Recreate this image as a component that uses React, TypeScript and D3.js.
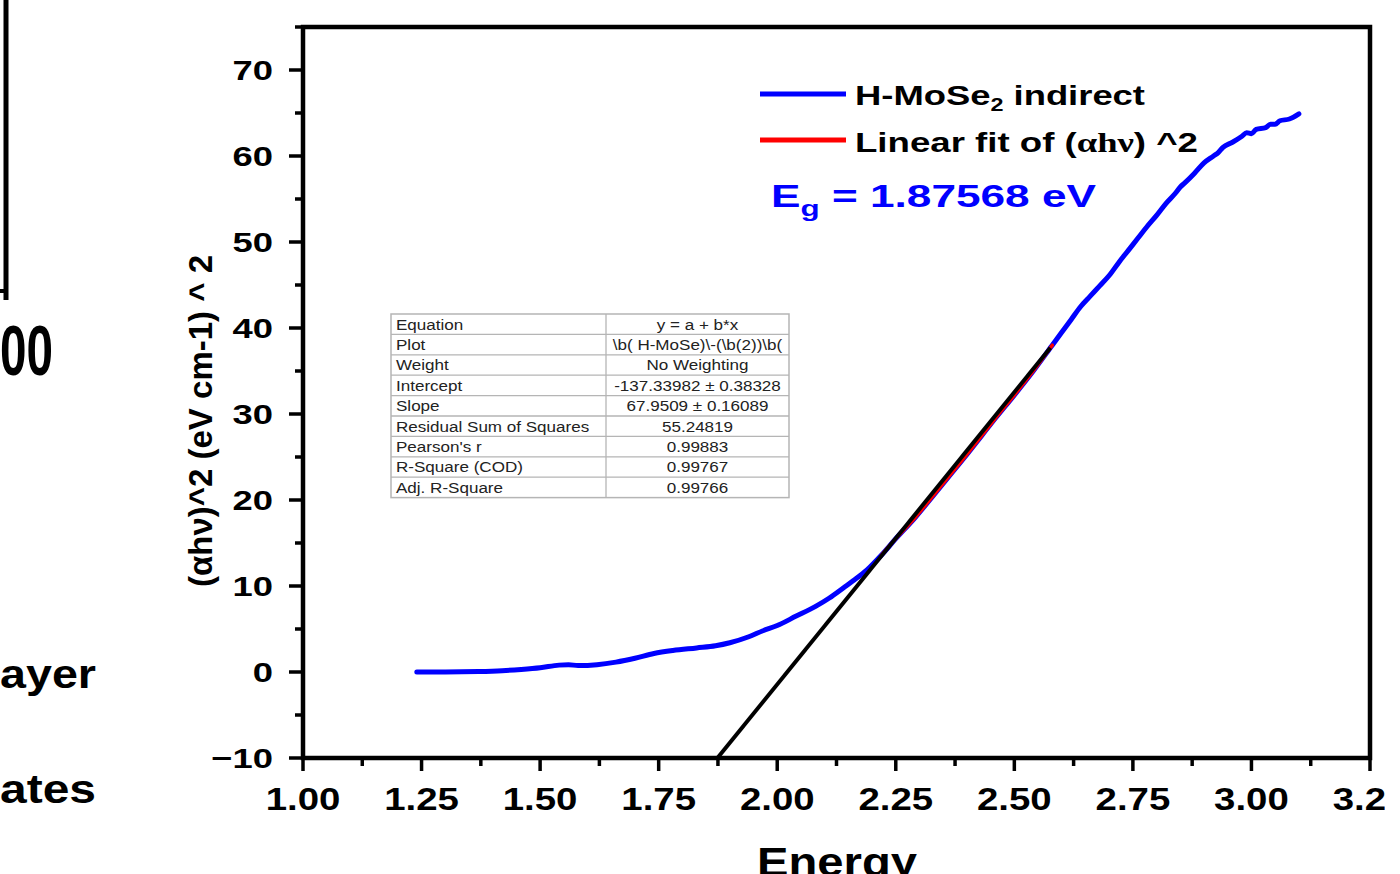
import React from 'react';
import * as d3 from 'd3';

// ---- data ----
const energy = [
  1.24, 1.30, 1.37, 1.42, 1.46, 1.50, 1.54, 1.56, 1.58, 1.62, 1.66, 1.70, 1.74, 1.78, 1.83, 1.87,
  1.90, 1.94, 1.97, 2.00, 2.04, 2.08, 2.11, 2.14, 2.16, 2.19, 2.22, 2.25, 2.29, 2.32, 2.36,
  2.40, 2.43, 2.46, 2.50, 2.54, 2.58, 2.60, 2.62, 2.64, 2.66, 2.68, 2.70, 2.72, 2.74, 2.76,
  2.78, 2.80, 2.82, 2.84, 2.85, 2.86, 2.88, 2.90, 2.92, 2.93, 2.94, 2.96, 2.98, 2.99, 3.00,
  3.01, 3.03, 3.04, 3.05, 3.06, 3.08, 3.10,
];
const absorption = [
  0.0, 0.0, 0.05, 0.15, 0.3, 0.5, 0.8, 0.85, 0.75, 0.85, 1.15, 1.6, 2.15, 2.5, 2.8, 3.05,
  3.4, 4.1, 4.8, 5.4, 6.5, 7.6, 8.6, 9.8, 10.6, 11.9, 13.6, 15.5, 17.9, 19.9, 22.6,
  25.3, 27.4, 29.5, 32.2, 35.0, 38.0, 39.5, 41.0, 42.5, 43.7, 44.9, 46.1, 47.6, 49.0, 50.4,
  51.8, 53.1, 54.5, 55.7, 56.4, 56.9, 58.0, 59.2, 60.0, 60.4, 61.0, 61.6, 62.3, 62.7, 62.6,
  63.1, 63.3, 63.7, 63.7, 64.1, 64.3, 64.9,
];
const fitRange = [2.2, 2.586];
const fitIntercept = -137.33982;
const fitSlope = 67.9509;
const fitLineEndX = 2.576;
const eg = '1.87568';

const xDomain = [1.0, 3.25];
const yDomain = [-10, 75];
const xTickValues = [1.0, 1.25, 1.5, 1.75, 2.0, 2.25, 2.5, 2.75, 3.0, 3.25];
const yTickValues = [-10, 0, 10, 20, 30, 40, 50, 60, 70];

const tableLabels = [
  'Equation', 'Plot', 'Weight', 'Intercept', 'Slope', 'Residual Sum of Squares',
  "Pearson's r", 'R-Square (COD)', 'Adj. R-Square',
];
const tableValues = [
  'y = a + b*x', '\\b( H-MoSe)\\-(\\b(2))\\b(', 'No Weighting', '-137.33982 ± 0.38328',
  '67.9509 ± 0.16089', '55.24819', '0.99883', '0.99767', '0.99766',
];

const FONT = "'Liberation Sans', Arial, Helvetica, sans-serif";

export default function App() {
  const W = 1400, H = 874;
  const left = 303, right = 1370, top = 27, bottom = 758;
  const x = d3.scaleLinear().domain(xDomain).range([left, right]);
  const y = d3.scaleLinear().domain(yDomain).range([bottom, top]);

  const pts = energy.map((e, i) => [e, absorption[i]] as [number, number]);
  const fitPts = pts.filter(p => p[0] >= fitRange[0] && p[0] <= fitRange[1]);
  const line = d3.line<[number, number]>().x(d => x(d[0])).y(d => y(d[1])).curve(d3.curveMonotoneX);

  const fitStartX = (yDomain[0] - fitIntercept) / fitSlope;
  const fitLine: [number, number][] = [
    [fitStartX, fitIntercept + fitSlope * fitStartX],
    [fitLineEndX, fitIntercept + fitSlope * fitLineEndX],
  ];
  const straight = d3.line<[number, number]>().x(d => x(d[0])).y(d => y(d[1]));

  const xMinor = d3.range(1.125, 3.25, 0.25);
  const yMinor = d3.range(-5, 76, 10);
  const fmtX = d3.format('.2f');
  const fmtY = d3.format('d');

  const tblX0 = 391, tblX1 = 789, tblMid = 606, tblY0 = 314, rowH = 20.4;

  return (
    <svg width={W} height={H} style={{ position: 'absolute', left: 0, top: 0, background: '#fff' }}
      fontFamily={FONT}>
      <defs>
        <clipPath id="pageClip"><rect x={0} y={0} width={1385} height={H} /></clipPath>
      </defs>
      <rect x={0} y={0} width={W} height={H} fill="#fff" />

      {/* fragments of neighbouring panel */}
      <line x1={6} y1={0} x2={6} y2={300} stroke="#000" strokeWidth={5} />
      <line x1={0} y1={291} x2={6} y2={291} stroke="#000" strokeWidth={4} />
      <text x={0} y={375} fontSize={71} fontWeight="bold" textLength={53} lengthAdjust="spacingAndGlyphs">00</text>
      <text x={0} y={688} fontSize={40} fontWeight="bold" textLength={96} lengthAdjust="spacingAndGlyphs">ayer</text>
      <text x={0} y={803} fontSize={40} fontWeight="bold" textLength={96} lengthAdjust="spacingAndGlyphs">ates</text>

      {/* ticks */}
      {xTickValues.map(v => (
        <line key={'xt' + v} x1={x(v)} x2={x(v)} y1={bottom} y2={bottom + 13} stroke="#000" strokeWidth={3.5} />
      ))}
      {xMinor.map(v => (
        <line key={'xm' + v} x1={x(v)} x2={x(v)} y1={bottom} y2={bottom + 8} stroke="#000" strokeWidth={3.5} />
      ))}
      {yTickValues.map(v => (
        <line key={'yt' + v} x1={left - 14} x2={left} y1={y(v)} y2={y(v)} stroke="#000" strokeWidth={3.5} />
      ))}
      {yMinor.map(v => (
        <line key={'ym' + v} x1={left - 8} x2={left} y1={y(v)} y2={y(v)} stroke="#000" strokeWidth={3.5} />
      ))}

      {/* tick labels */}
      <g clipPath="url(#pageClip)">
        {xTickValues.map(v => (
          <text key={'xl' + v} transform={`translate(${x(v)},810) scale(1.2,1)`} textAnchor="middle"
            fontSize={32} fontWeight="bold">{fmtX(v)}</text>
        ))}
      </g>
      {yTickValues.map(v => (
        <text key={'yl' + v} transform={`translate(273,${y(v) + 10}) scale(1.3,1)`} textAnchor="end"
          fontSize={28} fontWeight="bold">{fmtY(v)}</text>
      ))}

      {/* axis titles */}
      <text transform={`translate(212,421) rotate(-90)`} textAnchor="middle" fontSize={33} fontWeight="bold">
        (αhν)^2 (eV cm-1) ^ 2
      </text>
      <text x={757} y={876} fontSize={40} fontWeight="bold" textLength={160} lengthAdjust="spacingAndGlyphs">Energy</text>

      {/* table */}
      <g>
        {tableLabels.map((lab, i) => (
          <g key={'tr' + i}>
            <text transform={`translate(${tblX0 + 5},${tblY0 + rowH * i + 15.5}) scale(1.1,1)`}
              fontSize={15.5} fill="#222">{lab}</text>
            <text transform={`translate(${(tblMid + tblX1) / 2},${tblY0 + rowH * i + 15.5}) scale(1.1,1)`}
              textAnchor="middle" fontSize={15.5} fill="#222">{tableValues[i]}</text>
          </g>
        ))}
        {d3.range(1, tableLabels.length).map(i => (
          <line key={'hl' + i} x1={tblX0} x2={tblX1} y1={tblY0 + rowH * i} y2={tblY0 + rowH * i}
            stroke="#b5b5b5" strokeWidth={1.3} />
        ))}
        <line x1={tblMid} x2={tblMid} y1={tblY0} y2={tblY0 + rowH * tableLabels.length} stroke="#b5b5b5" strokeWidth={1.3} />
        <rect x={tblX0} y={tblY0} width={tblX1 - tblX0} height={rowH * tableLabels.length}
          fill="none" stroke="#b5b5b5" strokeWidth={1.5} />
      </g>

      {/* data */}
      <path d={line(pts) || ''} fill="none" stroke="#0000ff" strokeWidth={5} strokeLinejoin="round" strokeLinecap="round" />
      <path d={line(fitPts) || ''} fill="none" stroke="#ff0000" strokeWidth={3.5} strokeLinecap="round" />
      <path d={straight(fitLine) || ''} fill="none" stroke="#000" strokeWidth={4} />

      {/* frame */}
      <rect x={left} y={top} width={right - left} height={bottom - top} fill="none" stroke="#000" strokeWidth={4.5} />

      {/* legend */}
      <line x1={760} x2={846} y1={94} y2={94} stroke="#0000ff" strokeWidth={5} />
      <text x={855} y={105} fontSize={28} fontWeight="bold" textLength={290} lengthAdjust="spacingAndGlyphs">
        H-MoSe<tspan fontSize={18} dy={6}>2</tspan><tspan dy={-6}> indirect</tspan>
      </text>
      <line x1={760} x2={846} y1={140} y2={140} stroke="#ff0000" strokeWidth={5} />
      <text x={855} y={152} fontSize={28} fontWeight="bold" textLength={343} lengthAdjust="spacingAndGlyphs">
        Linear fit of (<tspan fontFamily="'Liberation Serif', 'Times New Roman', serif">αhν</tspan>) ^2
      </text>
      <text x={771} y={207} fontSize={31} fontWeight="bold" fill="#0000ff" textLength={325} lengthAdjust="spacingAndGlyphs">
        E<tspan fontSize={22} dy={9}>g</tspan><tspan dy={-9}> = {eg} eV</tspan>
      </text>
    </svg>
  );
}
